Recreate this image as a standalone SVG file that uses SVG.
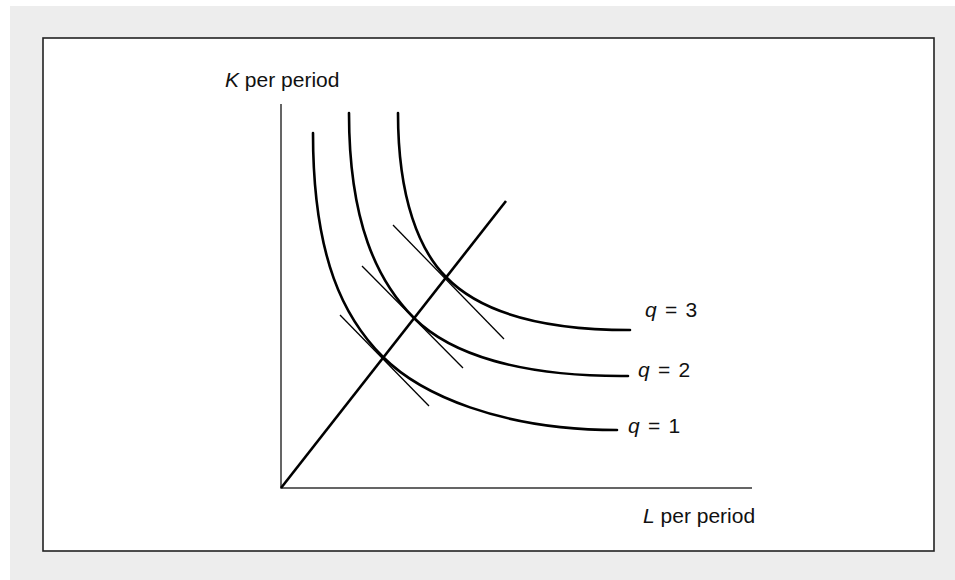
<svg xmlns="http://www.w3.org/2000/svg" width="955" height="580" viewBox="0 0 955 580">
<style>
.lbl{font-family:"Liberation Sans",Arial,sans-serif;font-size:21px;fill:#111}
.q{word-spacing:2.5px}
.it{font-style:italic}
.curve{fill:none;stroke:#000;stroke-width:2.6;stroke-linecap:round}
.tan{fill:none;stroke:#000;stroke-width:1.3}
.axis{fill:none;stroke:#333;stroke-width:1.5}
</style>
<rect x="0" y="0" width="955" height="580" fill="#fff"/>
<rect x="10" y="6" width="945" height="574" fill="#ededed"/>
<rect x="43" y="38" width="891" height="513" fill="#fff" stroke="#222" stroke-width="1.6"/>
<g id="axes">
<path class="axis" d="M281,104 V488 H752"/>
<text class="lbl" x="225" y="87"><tspan class="it">K</tspan> per period</text>
<text class="lbl" x="643" y="523"><tspan class="it">L</tspan> per period</text>
</g>
<g id="q1">
<path class="curve" d="M313,133 C313,260 345,319 383,357 C420,394 500,430 617,430"/>
<text class="lbl q" x="628" y="433"><tspan class="it">q</tspan> = 1</text>
</g>
<g id="q2">
<path class="curve" d="M349,113 C349,222 377,281 414,318 C450,354 520,377 628,376"/>
<text class="lbl q" x="638" y="377"><tspan class="it">q</tspan> = 2</text>
</g>
<g id="q3">
<path class="curve" d="M398,113 C398,200 420,251 446,277 C475,307 530,330 630,330"/>
<text class="lbl q" x="645" y="317"><tspan class="it">q</tspan> = 3</text>
</g>
<g id="connectors">
<line x1="281" y1="488" x2="506" y2="201" stroke="#000" stroke-width="2.6"/>
<line class="tan" x1="340" y1="315" x2="429" y2="406"/>
<line class="tan" x1="362" y1="266" x2="463" y2="368"/>
<line class="tan" x1="393" y1="225" x2="504" y2="339"/>
</g>
</svg>
